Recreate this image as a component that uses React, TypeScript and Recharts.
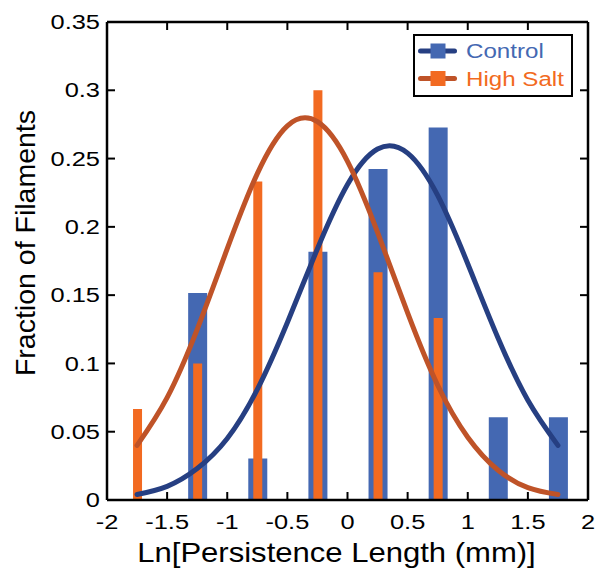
import React from 'react';
import { ComposedChart, Bar, Line, XAxis, YAxis, Legend, Label } from 'recharts';

// Histogram bins (Ln persistence length, mm)
const binCenters = [-1.75, -1.25, -0.75, -0.25, 0.25, 0.75, 1.25, 1.75];
const controlFraction = [null, 0.1515, 0.0303, 0.1818, 0.2424, 0.2727, 0.0606, 0.0606];
const highSaltFraction = [0.0667, 0.1, 0.2333, 0.3, 0.1667, 0.1333, null, null];

// Fitted curves
const fitX = [-1.75, -1.5, -1.25, -1, -0.75, -0.5, -0.25, 0, 0.25, 0.5, 0.75, 1, 1.25, 1.5, 1.75];
const controlFit = [0.004, 0.01, 0.023, 0.045, 0.081, 0.13, 0.184, 0.231, 0.257, 0.254, 0.223, 0.173, 0.119, 0.073, 0.04];
const highSaltFit = [0.04, 0.075, 0.125, 0.184, 0.239, 0.274, 0.277, 0.248, 0.196, 0.137, 0.084, 0.046, 0.022, 0.009, 0.004];

const xTicks = [-2, -1.5, -1, -0.5, 0, 0.5, 1, 1.5, 2];
const yTicks = [0, 0.05, 0.1, 0.15, 0.2, 0.25, 0.3, 0.35];

const seriesNames = ['Control', 'High Salt'];
const BAR_COLORS = ['#4468B2', '#F26A21'];
const LINE_COLORS = ['#263F82', '#BF5328'];

const xLabel = 'Ln[Persistence Length (mm)]';
const yLabel = 'Fraction of Filaments';

const FONT = '"Liberation Sans", Arial, Helvetica, sans-serif';
const SX = 1.15;
const TICK_SX = 1.27;

const data = fitX.map((x, i) => {
  const b = binCenters.indexOf(x);
  return {
    x,
    controlFit: controlFit[i],
    highSaltFit: highSaltFit[i],
    control: b >= 0 ? controlFraction[b] : null,
    highSalt: b >= 0 ? highSaltFraction[b] : null,
  };
});

const stretch = (cx: number) => `translate(${cx} 0) scale(${SX} 1) translate(${-cx} 0)`;

const XTick = (props: any) => {
  const { x, y, payload } = props;
  return (
    <g transform={`translate(${x},${y})`}>
      <text x={0} y={0} dy="0.71em" textAnchor="middle" fontSize={20} fontFamily={FONT} fill="#000" transform={`scale(${TICK_SX},1)`}>
        {String(payload.value)}
      </text>
    </g>
  );
};

const YTick = (props: any) => {
  const { x, y, payload } = props;
  return (
    <g transform={`translate(${x},${y})`}>
      <text x={0} y={0} dy="0.36em" textAnchor="end" fontSize={20} fontFamily={FONT} fill="#000" transform={`scale(${TICK_SX},1)`}>
        {String(payload.value)}
      </text>
    </g>
  );
};

const Empty = () => <g />;

const LegendBox = () => (
  <svg width={160} height={63} style={{ display: 'block' }}>
    <rect x={1} y={1} width={158} height={61} fill="#fff" stroke="#000" strokeWidth={2} />
    {seriesNames.map((name, i) => {
      const cy = 17 + i * 27.5;
      return (
        <g key={name}>
          <line x1={7.5} x2={41.5} y1={cy} y2={cy} stroke={LINE_COLORS[i]} strokeWidth={5} strokeLinecap="round" />
          <rect x={17.5} y={cy - 7.5} width={15} height={15} fill={BAR_COLORS[i]} />
          <text x={53} y={cy + 7.5} fontSize={21} fontFamily={FONT} fill={BAR_COLORS[i]} transform={stretch(53)}>
            {name}
          </text>
        </g>
      );
    })}
  </svg>
);

export default function App() {
  return (
    <div style={{ position: 'absolute', left: 0, top: 0, background: '#fff' }}>
      <ComposedChart width={597} height={572} data={data} margin={{ top: 22, right: 9, bottom: 0, left: 47 }}>
        <XAxis
          xAxisId="x"
          dataKey="x"
          type="number"
          domain={[-2, 2]}
          allowDataOverflow
          ticks={xTicks}
          interval={0}
          height={72}
          axisLine={{ stroke: '#000', strokeWidth: 2.5 }}
          tickLine={false}
          tickMargin={9}
          tick={<XTick />}
        >
          <Label
            content={(p: any) => {
              const vb = p.viewBox;
              const cx = vb.x + vb.width / 2 - 11;
              return (
                <text x={cx} y={vb.y + 62} textAnchor="middle" fontSize={27} fontFamily={FONT} fill="#000" transform={stretch(cx)}>
                  {xLabel}
                </text>
              );
            }}
          />
        </XAxis>
        <XAxis
          xAxisId="xt"
          dataKey="x"
          type="number"
          orientation="bottom"
          mirror
          domain={[-2, 2]}
          allowDataOverflow
          ticks={xTicks}
          interval={0}
          axisLine={false}
          tickLine={{ stroke: '#000', strokeWidth: 2 }}
          tickSize={8}
          tick={<Empty />}
        />
        <XAxis
          xAxisId="xtop"
          dataKey="x"
          type="number"
          orientation="top"
          mirror
          domain={[-2, 2]}
          allowDataOverflow
          ticks={xTicks}
          interval={0}
          axisLine={{ stroke: '#000', strokeWidth: 2.5 }}
          tickLine={{ stroke: '#000', strokeWidth: 2 }}
          tickSize={8}
          tick={<Empty />}
        />
        <YAxis
          yAxisId="y"
          type="number"
          domain={[0, 0.35]}
          allowDataOverflow
          ticks={yTicks}
          interval={0}
          width={60}
          axisLine={{ stroke: '#000', strokeWidth: 2.5 }}
          tickLine={false}
          tickMargin={1}
          tick={<YTick />}
        >
          <Label
            content={(p: any) => {
              const vb = p.viewBox;
              const cx = vb.x - 12;
              const cy = vb.y + vb.height / 2 - 18;
              return (
                <text
                  x={cx}
                  y={cy}
                  textAnchor="middle"
                  fontSize={28.5}
                  fontFamily={FONT}
                  fill="#000"
                  transform={`rotate(-90 ${cx} ${cy})`}
                >
                  {yLabel}
                </text>
              );
            }}
          />
        </YAxis>
        <YAxis
          yAxisId="yl"
          type="number"
          orientation="left"
          mirror
          domain={[0, 0.35]}
          allowDataOverflow
          ticks={yTicks}
          interval={0}
          axisLine={false}
          tickLine={{ stroke: '#000', strokeWidth: 2 }}
          tickSize={8}
          tick={<Empty />}
        />
        <YAxis
          yAxisId="yr"
          type="number"
          orientation="right"
          mirror
          domain={[0, 0.35]}
          allowDataOverflow
          ticks={yTicks}
          interval={0}
          axisLine={{ stroke: '#000', strokeWidth: 2.5 }}
          tickLine={{ stroke: '#000', strokeWidth: 2 }}
          tickSize={8}
          tick={<Empty />}
        />
        <Bar xAxisId="x" yAxisId="y" dataKey="control" name={seriesNames[0]} fill={BAR_COLORS[0]} barSize={19} isAnimationActive={false} />
        <Line
          xAxisId="x"
          yAxisId="y"
          dataKey="controlFit"
          type="natural"
          stroke={LINE_COLORS[0]}
          strokeWidth={5}
          strokeLinecap="round"
          dot={false}
          activeDot={false}
          legendType="none"
          isAnimationActive={false}
        />
        <Bar xAxisId="xt" yAxisId="y" dataKey="highSalt" name={seriesNames[1]} fill={BAR_COLORS[1]} barSize={9} isAnimationActive={false} />
        <Line
          xAxisId="x"
          yAxisId="y"
          dataKey="highSaltFit"
          type="natural"
          stroke={LINE_COLORS[1]}
          strokeWidth={5}
          strokeLinecap="round"
          dot={false}
          activeDot={false}
          legendType="none"
          isAnimationActive={false}
        />
        <Legend
          layout="vertical"
          align="center"
          verticalAlign="middle"
          content={<LegendBox />}
          wrapperStyle={{ left: 413, top: 34, width: 160, height: 63 }}
        />
      </ComposedChart>
    </div>
  );
}
